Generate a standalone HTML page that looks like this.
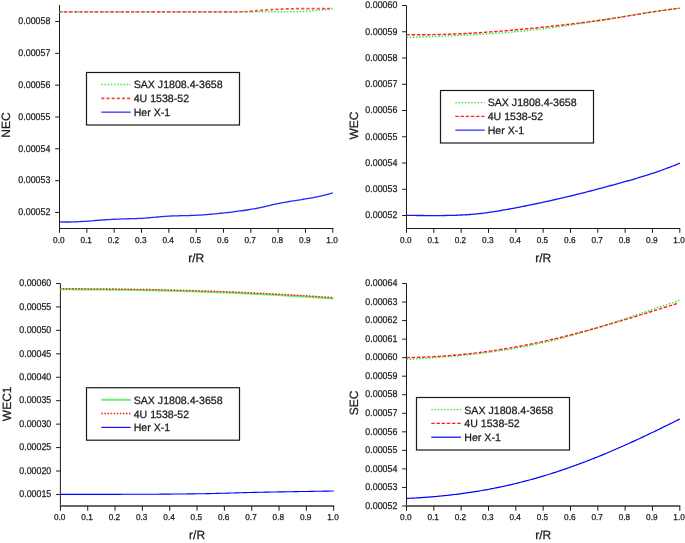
<!DOCTYPE html>
<html><head><meta charset="utf-8"><style>
html,body{margin:0;padding:0;background:#fff;width:685px;height:543px;overflow:hidden}
svg{display:block;will-change:transform}
text{font-family:"Liberation Sans", sans-serif;text-rendering:geometricPrecision;stroke:#1a1a1a;stroke-width:0.25px}
</style></head><body>
<svg width="685" height="543" viewBox="0 0 685 543">
<rect width="685" height="543" fill="#fff"/>
<g font-family='"Liberation Sans", sans-serif' font-size="9.8" fill="#1a1a1a">
<line x1="59.5" y1="5" x2="59.5" y2="229.0" stroke="#1a1a1a" stroke-width="1"/>
<line x1="59.0" y1="228.5" x2="333.3" y2="228.5" stroke="#1a1a1a" stroke-width="1"/>
<line x1="59.50" y1="228.5" x2="59.50" y2="232.8" stroke="#1a1a1a" stroke-width="1"/>
<text transform="translate(58.80,243) scale(0.96,1)" font-size="8.6" text-anchor="middle">0.0</text>
<line x1="86.83" y1="228.5" x2="86.83" y2="232.8" stroke="#1a1a1a" stroke-width="1"/>
<text transform="translate(86.13,243) scale(0.96,1)" font-size="8.6" text-anchor="middle">0.1</text>
<line x1="114.16" y1="228.5" x2="114.16" y2="232.8" stroke="#1a1a1a" stroke-width="1"/>
<text transform="translate(113.46,243) scale(0.96,1)" font-size="8.6" text-anchor="middle">0.2</text>
<line x1="141.49" y1="228.5" x2="141.49" y2="232.8" stroke="#1a1a1a" stroke-width="1"/>
<text transform="translate(140.79,243) scale(0.96,1)" font-size="8.6" text-anchor="middle">0.3</text>
<line x1="168.82" y1="228.5" x2="168.82" y2="232.8" stroke="#1a1a1a" stroke-width="1"/>
<text transform="translate(168.12,243) scale(0.96,1)" font-size="8.6" text-anchor="middle">0.4</text>
<line x1="196.15" y1="228.5" x2="196.15" y2="232.8" stroke="#1a1a1a" stroke-width="1"/>
<text transform="translate(195.45,243) scale(0.96,1)" font-size="8.6" text-anchor="middle">0.5</text>
<line x1="223.48" y1="228.5" x2="223.48" y2="232.8" stroke="#1a1a1a" stroke-width="1"/>
<text transform="translate(222.78,243) scale(0.96,1)" font-size="8.6" text-anchor="middle">0.6</text>
<line x1="250.81" y1="228.5" x2="250.81" y2="232.8" stroke="#1a1a1a" stroke-width="1"/>
<text transform="translate(250.11,243) scale(0.96,1)" font-size="8.6" text-anchor="middle">0.7</text>
<line x1="278.14" y1="228.5" x2="278.14" y2="232.8" stroke="#1a1a1a" stroke-width="1"/>
<text transform="translate(277.44,243) scale(0.96,1)" font-size="8.6" text-anchor="middle">0.8</text>
<line x1="305.47" y1="228.5" x2="305.47" y2="232.8" stroke="#1a1a1a" stroke-width="1"/>
<text transform="translate(304.77,243) scale(0.96,1)" font-size="8.6" text-anchor="middle">0.9</text>
<line x1="332.80" y1="228.5" x2="332.80" y2="232.8" stroke="#1a1a1a" stroke-width="1"/>
<text transform="translate(332.10,243) scale(0.96,1)" font-size="8.6" text-anchor="middle">1.0</text>
<line x1="55.2" y1="21.5" x2="59.5" y2="21.5" stroke="#1a1a1a" stroke-width="1"/>
<text transform="translate(50.4,24.25) scale(0.905,1)" text-anchor="end">0.00058</text>
<line x1="55.2" y1="53.33" x2="59.5" y2="53.33" stroke="#1a1a1a" stroke-width="1"/>
<text transform="translate(50.4,56.08) scale(0.905,1)" text-anchor="end">0.00057</text>
<line x1="55.2" y1="85.16" x2="59.5" y2="85.16" stroke="#1a1a1a" stroke-width="1"/>
<text transform="translate(50.4,87.91) scale(0.905,1)" text-anchor="end">0.00056</text>
<line x1="55.2" y1="116.99" x2="59.5" y2="116.99" stroke="#1a1a1a" stroke-width="1"/>
<text transform="translate(50.4,119.74) scale(0.905,1)" text-anchor="end">0.00055</text>
<line x1="55.2" y1="148.82" x2="59.5" y2="148.82" stroke="#1a1a1a" stroke-width="1"/>
<text transform="translate(50.4,151.57) scale(0.905,1)" text-anchor="end">0.00054</text>
<line x1="55.2" y1="180.64999999999998" x2="59.5" y2="180.64999999999998" stroke="#1a1a1a" stroke-width="1"/>
<text transform="translate(50.4,183.40) scale(0.905,1)" text-anchor="end">0.00053</text>
<line x1="55.2" y1="212.48" x2="59.5" y2="212.48" stroke="#1a1a1a" stroke-width="1"/>
<text transform="translate(50.4,215.23) scale(0.905,1)" text-anchor="end">0.00052</text>
<path d="M59.50,11.80 L61.22,11.80 L62.94,11.80 L64.66,11.80 L66.38,11.80 L68.09,11.80 L69.81,11.80 L71.53,11.80 L73.25,11.79 L74.97,11.79 L76.69,11.79 L78.41,11.79 L80.13,11.79 L81.85,11.79 L83.56,11.79 L85.28,11.79 L87.00,11.79 L88.72,11.79 L90.44,11.79 L92.16,11.79 L93.88,11.79 L95.60,11.79 L97.32,11.79 L99.03,11.79 L100.75,11.79 L102.47,11.79 L104.19,11.79 L105.91,11.79 L107.63,11.79 L109.35,11.78 L111.07,11.78 L112.78,11.78 L114.50,11.78 L116.22,11.78 L117.94,11.78 L119.66,11.78 L121.38,11.78 L123.10,11.78 L124.82,11.78 L126.54,11.78 L128.25,11.78 L129.97,11.78 L131.69,11.78 L133.41,11.78 L135.13,11.78 L136.85,11.78 L138.57,11.78 L140.29,11.78 L142.01,11.78 L143.72,11.78 L145.44,11.78 L147.16,11.78 L148.88,11.78 L150.60,11.78 L152.32,11.78 L154.04,11.78 L155.76,11.78 L157.48,11.78 L159.19,11.78 L160.91,11.78 L162.63,11.77 L164.35,11.77 L166.07,11.77 L167.79,11.77 L169.51,11.77 L171.23,11.77 L172.95,11.77 L174.66,11.77 L176.38,11.77 L178.10,11.77 L179.82,11.77 L181.54,11.77 L183.26,11.77 L184.98,11.77 L186.70,11.77 L188.42,11.77 L190.13,11.77 L191.85,11.77 L193.57,11.77 L195.29,11.77 L197.01,11.77 L198.73,11.77 L200.45,11.76 L202.17,11.76 L203.88,11.76 L205.60,11.76 L207.32,11.76 L209.04,11.76 L210.76,11.76 L212.48,11.76 L214.20,11.76 L215.92,11.76 L217.64,11.76 L219.35,11.76 L221.07,11.76 L222.79,11.76 L224.51,11.75 L226.23,11.75 L227.95,11.75 L229.67,11.75 L231.39,11.75 L233.11,11.75 L234.82,11.75 L236.54,11.75 L238.26,11.75 L239.98,11.75 L241.70,11.74 L243.42,11.74 L245.14,11.74 L246.86,11.74 L248.58,11.74 L250.29,11.74 L252.01,11.74 L253.73,11.74 L255.45,11.74 L257.17,11.73 L258.89,11.73 L260.61,11.73 L262.33,11.73 L264.05,11.73 L265.76,11.73 L267.48,11.73 L269.20,11.72 L270.92,11.72 L272.64,11.72 L274.36,11.72 L276.08,11.72 L277.80,11.72 L279.52,11.71 L281.23,11.71 L282.95,11.71 L284.67,11.71 L286.39,11.71 L288.11,11.70 L289.83,11.70 L291.55,11.70 L293.27,11.69 L294.98,11.68 L296.70,11.65 L298.42,11.62 L300.14,11.57 L301.86,11.52 L303.58,11.47 L305.30,11.41 L307.02,11.31 L308.74,11.15 L310.45,10.96 L312.17,10.76 L313.89,10.58 L315.61,10.42 L317.33,10.26 L319.05,10.10 L320.77,9.94 L322.49,9.78 L324.21,9.60 L325.92,9.41 L327.64,9.21 L329.36,9.00 L331.08,8.80 L332.80,8.60" fill="none" stroke="#3cf03c" stroke-width="1.5" stroke-dasharray="1.5 1.67" stroke-dashoffset="0.77" stroke-linecap="butt"/>
<path d="M59.50,11.80 L61.21,11.80 L62.92,11.80 L64.63,11.80 L66.34,11.80 L68.05,11.80 L69.76,11.80 L71.47,11.80 L73.18,11.80 L74.89,11.80 L76.60,11.80 L78.31,11.80 L80.02,11.80 L81.73,11.80 L83.44,11.80 L85.15,11.80 L86.86,11.80 L88.57,11.80 L90.28,11.80 L92.00,11.80 L93.71,11.80 L95.42,11.80 L97.13,11.80 L98.84,11.80 L100.55,11.80 L102.26,11.80 L103.97,11.80 L105.68,11.80 L107.39,11.80 L109.10,11.80 L110.81,11.80 L112.52,11.80 L114.23,11.80 L115.94,11.80 L117.65,11.80 L119.36,11.80 L121.07,11.80 L122.78,11.80 L124.49,11.80 L126.20,11.80 L127.91,11.80 L129.62,11.80 L131.33,11.80 L133.04,11.80 L134.75,11.80 L136.46,11.80 L138.17,11.80 L139.88,11.80 L141.59,11.80 L143.30,11.80 L145.01,11.80 L146.72,11.80 L148.43,11.80 L150.14,11.80 L151.85,11.80 L153.57,11.80 L155.28,11.80 L156.99,11.80 L158.70,11.80 L160.41,11.80 L162.12,11.80 L163.83,11.80 L165.54,11.80 L167.25,11.80 L168.96,11.80 L170.67,11.80 L172.38,11.80 L174.09,11.80 L175.80,11.80 L177.51,11.80 L179.22,11.80 L180.93,11.80 L182.64,11.80 L184.35,11.80 L186.06,11.80 L187.77,11.80 L189.48,11.80 L191.19,11.80 L192.90,11.80 L194.61,11.80 L196.32,11.80 L198.03,11.80 L199.74,11.80 L201.45,11.80 L203.16,11.80 L204.87,11.80 L206.58,11.80 L208.29,11.80 L210.00,11.80 L211.71,11.80 L213.42,11.80 L215.13,11.80 L216.85,11.80 L218.56,11.80 L220.27,11.80 L221.98,11.80 L223.69,11.80 L225.40,11.80 L227.11,11.80 L228.82,11.80 L230.53,11.80 L232.24,11.79 L233.95,11.79 L235.66,11.78 L237.37,11.78 L239.08,11.77 L240.79,11.77 L242.50,11.76 L244.21,11.75 L245.92,11.69 L247.63,11.57 L249.34,11.42 L251.05,11.28 L252.76,11.13 L254.47,10.97 L256.18,10.81 L257.89,10.64 L259.60,10.47 L261.31,10.29 L263.02,10.12 L264.73,9.97 L266.44,9.83 L268.15,9.73 L269.86,9.63 L271.57,9.55 L273.28,9.48 L274.99,9.40 L276.70,9.33 L278.42,9.25 L280.13,9.16 L281.84,9.07 L283.55,8.99 L285.26,8.92 L286.97,8.87 L288.68,8.83 L290.39,8.80 L292.10,8.77 L293.81,8.75 L295.52,8.73 L297.23,8.71 L298.94,8.70 L300.65,8.70 L302.36,8.70 L304.07,8.70 L305.78,8.70 L307.49,8.70 L309.20,8.70 L310.91,8.70 L312.62,8.70 L314.33,8.70 L316.04,8.70 L317.75,8.70 L319.46,8.70 L321.17,8.70 L322.88,8.70 L324.59,8.70 L326.30,8.70 L328.01,8.70 L329.72,8.70 L331.43,8.70" fill="none" stroke="#ff4646" stroke-width="1.7" stroke-dasharray="3.05 2.11" stroke-dashoffset="0.66" stroke-linecap="butt"/>
<path d="M59.50,221.90 L61.22,221.96 L62.94,222.00 L64.66,222.02 L66.38,222.02 L68.09,222.01 L69.81,221.99 L71.53,221.95 L73.25,221.90 L74.97,221.84 L76.69,221.77 L78.41,221.69 L80.13,221.59 L81.85,221.50 L83.56,221.39 L85.28,221.28 L87.00,221.16 L88.72,221.04 L90.44,220.91 L92.16,220.78 L93.88,220.65 L95.60,220.52 L97.32,220.39 L99.03,220.26 L100.75,220.13 L102.47,220.00 L104.19,219.88 L105.91,219.76 L107.63,219.65 L109.35,219.54 L111.07,219.44 L112.78,219.35 L114.50,219.26 L116.22,219.18 L117.94,219.10 L119.66,219.03 L121.38,218.97 L123.10,218.91 L124.82,218.86 L126.54,218.81 L128.25,218.76 L129.97,218.72 L131.69,218.68 L133.41,218.64 L135.13,218.60 L136.85,218.54 L138.57,218.47 L140.29,218.39 L142.01,218.30 L143.72,218.18 L145.44,218.06 L147.16,217.92 L148.88,217.77 L150.60,217.62 L152.32,217.46 L154.04,217.30 L155.76,217.14 L157.48,216.98 L159.19,216.82 L160.91,216.67 L162.63,216.53 L164.35,216.40 L166.07,216.29 L167.79,216.18 L169.51,216.09 L171.23,216.01 L172.95,215.94 L174.66,215.88 L176.38,215.82 L178.10,215.78 L179.82,215.73 L181.54,215.69 L183.26,215.65 L184.98,215.61 L186.70,215.57 L188.42,215.53 L190.13,215.48 L191.85,215.42 L193.57,215.36 L195.29,215.29 L197.01,215.21 L198.73,215.13 L200.45,215.03 L202.17,214.92 L203.88,214.81 L205.60,214.69 L207.32,214.55 L209.04,214.42 L210.76,214.27 L212.48,214.12 L214.20,213.96 L215.92,213.80 L217.64,213.62 L219.35,213.45 L221.07,213.26 L222.79,213.08 L224.51,212.89 L226.23,212.69 L227.95,212.49 L229.67,212.28 L231.39,212.08 L233.11,211.86 L234.82,211.65 L236.54,211.43 L238.26,211.21 L239.98,210.98 L241.70,210.75 L243.42,210.51 L245.14,210.26 L246.86,210.01 L248.58,209.74 L250.29,209.47 L252.01,209.18 L253.73,208.88 L255.45,208.57 L257.17,208.24 L258.89,207.90 L260.61,207.55 L262.33,207.17 L264.05,206.78 L265.76,206.38 L267.48,205.97 L269.20,205.55 L270.92,205.14 L272.64,204.74 L274.36,204.35 L276.08,203.98 L277.80,203.63 L279.52,203.29 L281.23,202.96 L282.95,202.64 L284.67,202.33 L286.39,202.03 L288.11,201.74 L289.83,201.46 L291.55,201.18 L293.27,200.90 L294.98,200.63 L296.70,200.35 L298.42,200.08 L300.14,199.81 L301.86,199.53 L303.58,199.25 L305.30,198.97 L307.02,198.68 L308.74,198.39 L310.45,198.08 L312.17,197.77 L313.89,197.45 L315.61,197.12 L317.33,196.77 L319.05,196.41 L320.77,196.03 L322.49,195.64 L324.21,195.24 L325.92,194.81 L327.64,194.36 L329.36,193.90 L331.08,193.41 L332.80,192.90" fill="none" stroke="#2424ff" stroke-width="1.3" stroke-linecap="butt"/>
<text x="196.15" y="261.8" text-anchor="middle" font-size="12.0">r/R</text>
<text transform="translate(10.2,125) rotate(-90)" text-anchor="middle" font-size="12.0">NEC</text>
<rect x="86.5" y="72.5" width="153" height="52.5" fill="#fff" stroke="#1a1a1a" stroke-width="1.2"/>
<line x1="101.3" y1="84.60" x2="130.7" y2="84.60" stroke="#3cf03c" stroke-width="1.5" stroke-dasharray="1.5 1.67"/>
<text x="133.7" y="88.10" font-size="10.6">SAX J1808.4-3658</text>
<line x1="101.3" y1="98.40" x2="130.7" y2="98.40" stroke="#ff4646" stroke-width="1.7" stroke-dasharray="3.05 2.11"/>
<text x="133.7" y="101.90" font-size="10.6">4U 1538-52</text>
<line x1="101.3" y1="112.20" x2="130.7" y2="112.20" stroke="#5a5aff" stroke-width="1.6"/>
<text x="133.7" y="115.70" font-size="10.6">Her X-1</text>
<line x1="406.5" y1="5.5" x2="406.5" y2="229.0" stroke="#1a1a1a" stroke-width="1"/>
<line x1="406.0" y1="228.5" x2="680.3" y2="228.5" stroke="#1a1a1a" stroke-width="1"/>
<line x1="406.50" y1="228.5" x2="406.50" y2="232.8" stroke="#1a1a1a" stroke-width="1"/>
<text transform="translate(405.80,243) scale(0.96,1)" font-size="8.6" text-anchor="middle">0.0</text>
<line x1="433.83" y1="228.5" x2="433.83" y2="232.8" stroke="#1a1a1a" stroke-width="1"/>
<text transform="translate(433.13,243) scale(0.96,1)" font-size="8.6" text-anchor="middle">0.1</text>
<line x1="461.16" y1="228.5" x2="461.16" y2="232.8" stroke="#1a1a1a" stroke-width="1"/>
<text transform="translate(460.46,243) scale(0.96,1)" font-size="8.6" text-anchor="middle">0.2</text>
<line x1="488.49" y1="228.5" x2="488.49" y2="232.8" stroke="#1a1a1a" stroke-width="1"/>
<text transform="translate(487.79,243) scale(0.96,1)" font-size="8.6" text-anchor="middle">0.3</text>
<line x1="515.82" y1="228.5" x2="515.82" y2="232.8" stroke="#1a1a1a" stroke-width="1"/>
<text transform="translate(515.12,243) scale(0.96,1)" font-size="8.6" text-anchor="middle">0.4</text>
<line x1="543.15" y1="228.5" x2="543.15" y2="232.8" stroke="#1a1a1a" stroke-width="1"/>
<text transform="translate(542.45,243) scale(0.96,1)" font-size="8.6" text-anchor="middle">0.5</text>
<line x1="570.48" y1="228.5" x2="570.48" y2="232.8" stroke="#1a1a1a" stroke-width="1"/>
<text transform="translate(569.78,243) scale(0.96,1)" font-size="8.6" text-anchor="middle">0.6</text>
<line x1="597.81" y1="228.5" x2="597.81" y2="232.8" stroke="#1a1a1a" stroke-width="1"/>
<text transform="translate(597.11,243) scale(0.96,1)" font-size="8.6" text-anchor="middle">0.7</text>
<line x1="625.14" y1="228.5" x2="625.14" y2="232.8" stroke="#1a1a1a" stroke-width="1"/>
<text transform="translate(624.44,243) scale(0.96,1)" font-size="8.6" text-anchor="middle">0.8</text>
<line x1="652.47" y1="228.5" x2="652.47" y2="232.8" stroke="#1a1a1a" stroke-width="1"/>
<text transform="translate(651.77,243) scale(0.96,1)" font-size="8.6" text-anchor="middle">0.9</text>
<line x1="679.80" y1="228.5" x2="679.80" y2="232.8" stroke="#1a1a1a" stroke-width="1"/>
<text transform="translate(679.10,243) scale(0.96,1)" font-size="8.6" text-anchor="middle">1.0</text>
<line x1="402.2" y1="5.5" x2="406.5" y2="5.5" stroke="#1a1a1a" stroke-width="1"/>
<text transform="translate(397.4,8.25) scale(0.905,1)" text-anchor="end">0.00060</text>
<line x1="402.2" y1="31.75" x2="406.5" y2="31.75" stroke="#1a1a1a" stroke-width="1"/>
<text transform="translate(397.4,34.50) scale(0.905,1)" text-anchor="end">0.00059</text>
<line x1="402.2" y1="58.0" x2="406.5" y2="58.0" stroke="#1a1a1a" stroke-width="1"/>
<text transform="translate(397.4,60.75) scale(0.905,1)" text-anchor="end">0.00058</text>
<line x1="402.2" y1="84.25" x2="406.5" y2="84.25" stroke="#1a1a1a" stroke-width="1"/>
<text transform="translate(397.4,87.00) scale(0.905,1)" text-anchor="end">0.00057</text>
<line x1="402.2" y1="110.5" x2="406.5" y2="110.5" stroke="#1a1a1a" stroke-width="1"/>
<text transform="translate(397.4,113.25) scale(0.905,1)" text-anchor="end">0.00056</text>
<line x1="402.2" y1="136.75" x2="406.5" y2="136.75" stroke="#1a1a1a" stroke-width="1"/>
<text transform="translate(397.4,139.50) scale(0.905,1)" text-anchor="end">0.00055</text>
<line x1="402.2" y1="163.0" x2="406.5" y2="163.0" stroke="#1a1a1a" stroke-width="1"/>
<text transform="translate(397.4,165.75) scale(0.905,1)" text-anchor="end">0.00054</text>
<line x1="402.2" y1="189.25" x2="406.5" y2="189.25" stroke="#1a1a1a" stroke-width="1"/>
<text transform="translate(397.4,192.00) scale(0.905,1)" text-anchor="end">0.00053</text>
<line x1="402.2" y1="215.5" x2="406.5" y2="215.5" stroke="#1a1a1a" stroke-width="1"/>
<text transform="translate(397.4,218.25) scale(0.905,1)" text-anchor="end">0.00052</text>
<path d="M406.50,37.46 L408.22,37.41 L409.94,37.35 L411.66,37.29 L413.38,37.23 L415.09,37.17 L416.81,37.11 L418.53,37.05 L420.25,36.99 L421.97,36.93 L423.69,36.87 L425.41,36.81 L427.13,36.74 L428.85,36.68 L430.56,36.62 L432.28,36.55 L434.00,36.48 L435.72,36.42 L437.44,36.35 L439.16,36.28 L440.88,36.21 L442.60,36.14 L444.32,36.07 L446.03,36.00 L447.75,35.92 L449.47,35.85 L451.19,35.77 L452.91,35.70 L454.63,35.62 L456.35,35.54 L458.07,35.46 L459.78,35.37 L461.50,35.29 L463.22,35.21 L464.94,35.12 L466.66,35.03 L468.38,34.94 L470.10,34.85 L471.82,34.76 L473.54,34.66 L475.25,34.57 L476.97,34.47 L478.69,34.37 L480.41,34.27 L482.13,34.16 L483.85,34.06 L485.57,33.95 L487.29,33.84 L489.01,33.73 L490.72,33.62 L492.44,33.50 L494.16,33.39 L495.88,33.27 L497.60,33.15 L499.32,33.02 L501.04,32.89 L502.76,32.76 L504.48,32.63 L506.19,32.50 L507.91,32.36 L509.63,32.22 L511.35,32.08 L513.07,31.93 L514.79,31.78 L516.51,31.63 L518.23,31.47 L519.95,31.31 L521.66,31.15 L523.38,30.99 L525.10,30.82 L526.82,30.65 L528.54,30.47 L530.26,30.29 L531.98,30.11 L533.70,29.92 L535.42,29.73 L537.13,29.54 L538.85,29.34 L540.57,29.13 L542.29,28.93 L544.01,28.72 L545.73,28.50 L547.45,28.28 L549.17,28.06 L550.88,27.83 L552.60,27.60 L554.32,27.37 L556.04,27.13 L557.76,26.89 L559.48,26.64 L561.20,26.40 L562.92,26.15 L564.64,25.89 L566.35,25.64 L568.07,25.38 L569.79,25.12 L571.51,24.86 L573.23,24.60 L574.95,24.33 L576.67,24.07 L578.39,23.80 L580.11,23.53 L581.82,23.26 L583.54,22.99 L585.26,22.72 L586.98,22.44 L588.70,22.17 L590.42,21.90 L592.14,21.62 L593.86,21.35 L595.58,21.08 L597.29,20.80 L599.01,20.53 L600.73,20.25 L602.45,19.97 L604.17,19.70 L605.89,19.42 L607.61,19.14 L609.33,18.86 L611.05,18.58 L612.76,18.30 L614.48,18.02 L616.20,17.74 L617.92,17.46 L619.64,17.18 L621.36,16.89 L623.08,16.61 L624.80,16.32 L626.52,16.04 L628.23,15.76 L629.95,15.47 L631.67,15.19 L633.39,14.90 L635.11,14.62 L636.83,14.34 L638.55,14.06 L640.27,13.78 L641.98,13.51 L643.70,13.23 L645.42,12.96 L647.14,12.69 L648.86,12.43 L650.58,12.16 L652.30,11.90 L654.02,11.65 L655.74,11.39 L657.45,11.14 L659.17,10.90 L660.89,10.66 L662.61,10.42 L664.33,10.19 L666.05,9.96 L667.77,9.74 L669.49,9.52 L671.21,9.31 L672.92,9.11 L674.64,8.91 L676.36,8.72 L678.08,8.53 L679.80,8.35" fill="none" stroke="#22ee22" stroke-width="1.4" stroke-dasharray="1.5 1.67" stroke-dashoffset="0" stroke-linecap="butt"/>
<path d="M406.50,34.63 L408.22,34.66 L409.94,34.68 L411.66,34.70 L413.38,34.71 L415.09,34.72 L416.81,34.73 L418.53,34.73 L420.25,34.73 L421.97,34.73 L423.69,34.72 L425.41,34.71 L427.13,34.70 L428.85,34.68 L430.56,34.66 L432.28,34.63 L434.00,34.60 L435.72,34.57 L437.44,34.53 L439.16,34.49 L440.88,34.45 L442.60,34.41 L444.32,34.36 L446.03,34.30 L447.75,34.25 L449.47,34.19 L451.19,34.13 L452.91,34.06 L454.63,34.00 L456.35,33.92 L458.07,33.85 L459.78,33.77 L461.50,33.69 L463.22,33.61 L464.94,33.53 L466.66,33.44 L468.38,33.35 L470.10,33.25 L471.82,33.15 L473.54,33.06 L475.25,32.95 L476.97,32.85 L478.69,32.74 L480.41,32.63 L482.13,32.52 L483.85,32.40 L485.57,32.29 L487.29,32.17 L489.01,32.04 L490.72,31.92 L492.44,31.79 L494.16,31.66 L495.88,31.53 L497.60,31.40 L499.32,31.26 L501.04,31.12 L502.76,30.98 L504.48,30.84 L506.19,30.69 L507.91,30.55 L509.63,30.40 L511.35,30.25 L513.07,30.09 L514.79,29.94 L516.51,29.78 L518.23,29.62 L519.95,29.46 L521.66,29.30 L523.38,29.14 L525.10,28.97 L526.82,28.81 L528.54,28.64 L530.26,28.47 L531.98,28.29 L533.70,28.12 L535.42,27.95 L537.13,27.77 L538.85,27.59 L540.57,27.41 L542.29,27.23 L544.01,27.05 L545.73,26.87 L547.45,26.68 L549.17,26.49 L550.88,26.31 L552.60,26.12 L554.32,25.93 L556.04,25.74 L557.76,25.55 L559.48,25.35 L561.20,25.16 L562.92,24.96 L564.64,24.77 L566.35,24.57 L568.07,24.37 L569.79,24.17 L571.51,23.97 L573.23,23.77 L574.95,23.57 L576.67,23.36 L578.39,23.16 L580.11,22.95 L581.82,22.74 L583.54,22.52 L585.26,22.31 L586.98,22.09 L588.70,21.87 L590.42,21.64 L592.14,21.41 L593.86,21.18 L595.58,20.95 L597.29,20.71 L599.01,20.47 L600.73,20.23 L602.45,19.98 L604.17,19.72 L605.89,19.47 L607.61,19.21 L609.33,18.95 L611.05,18.68 L612.76,18.42 L614.48,18.15 L616.20,17.88 L617.92,17.60 L619.64,17.33 L621.36,17.05 L623.08,16.77 L624.80,16.49 L626.52,16.21 L628.23,15.92 L629.95,15.64 L631.67,15.36 L633.39,15.07 L635.11,14.79 L636.83,14.50 L638.55,14.21 L640.27,13.93 L641.98,13.65 L643.70,13.36 L645.42,13.08 L647.14,12.80 L648.86,12.53 L650.58,12.25 L652.30,11.98 L654.02,11.71 L655.74,11.45 L657.45,11.19 L659.17,10.93 L660.89,10.68 L662.61,10.43 L664.33,10.18 L666.05,9.95 L667.77,9.71 L669.49,9.49 L671.21,9.27 L672.92,9.05 L674.64,8.85 L676.36,8.65 L678.08,8.46 L679.80,8.27" fill="none" stroke="#ff2020" stroke-width="1.4" stroke-dasharray="3.5 1.66" stroke-dashoffset="0" stroke-linecap="butt"/>
<path d="M406.50,215.46 L408.22,215.46 L409.94,215.46 L411.66,215.46 L413.38,215.47 L415.09,215.47 L416.81,215.48 L418.53,215.49 L420.25,215.50 L421.97,215.51 L423.69,215.52 L425.41,215.53 L427.13,215.54 L428.85,215.55 L430.56,215.56 L432.28,215.56 L434.00,215.57 L435.72,215.57 L437.44,215.57 L439.16,215.56 L440.88,215.55 L442.60,215.54 L444.32,215.52 L446.03,215.50 L447.75,215.47 L449.47,215.44 L451.19,215.40 L452.91,215.35 L454.63,215.30 L456.35,215.24 L458.07,215.18 L459.78,215.11 L461.50,215.02 L463.22,214.93 L464.94,214.84 L466.66,214.73 L468.38,214.61 L470.10,214.48 L471.82,214.35 L473.54,214.20 L475.25,214.04 L476.97,213.87 L478.69,213.69 L480.41,213.50 L482.13,213.29 L483.85,213.08 L485.57,212.86 L487.29,212.63 L489.01,212.39 L490.72,212.15 L492.44,211.89 L494.16,211.63 L495.88,211.36 L497.60,211.08 L499.32,210.80 L501.04,210.51 L502.76,210.22 L504.48,209.92 L506.19,209.61 L507.91,209.30 L509.63,208.99 L511.35,208.67 L513.07,208.35 L514.79,208.02 L516.51,207.69 L518.23,207.36 L519.95,207.03 L521.66,206.69 L523.38,206.35 L525.10,206.00 L526.82,205.65 L528.54,205.30 L530.26,204.95 L531.98,204.59 L533.70,204.24 L535.42,203.87 L537.13,203.51 L538.85,203.14 L540.57,202.78 L542.29,202.41 L544.01,202.03 L545.73,201.66 L547.45,201.28 L549.17,200.90 L550.88,200.52 L552.60,200.14 L554.32,199.75 L556.04,199.36 L557.76,198.97 L559.48,198.58 L561.20,198.18 L562.92,197.78 L564.64,197.38 L566.35,196.98 L568.07,196.57 L569.79,196.16 L571.51,195.75 L573.23,195.33 L574.95,194.91 L576.67,194.49 L578.39,194.06 L580.11,193.64 L581.82,193.20 L583.54,192.77 L585.26,192.33 L586.98,191.89 L588.70,191.45 L590.42,191.00 L592.14,190.56 L593.86,190.11 L595.58,189.65 L597.29,189.20 L599.01,188.74 L600.73,188.28 L602.45,187.82 L604.17,187.36 L605.89,186.90 L607.61,186.44 L609.33,185.97 L611.05,185.50 L612.76,185.04 L614.48,184.57 L616.20,184.10 L617.92,183.63 L619.64,183.15 L621.36,182.68 L623.08,182.20 L624.80,181.72 L626.52,181.23 L628.23,180.75 L629.95,180.26 L631.67,179.76 L633.39,179.26 L635.11,178.76 L636.83,178.25 L638.55,177.74 L640.27,177.22 L641.98,176.70 L643.70,176.17 L645.42,175.64 L647.14,175.09 L648.86,174.54 L650.58,173.99 L652.30,173.42 L654.02,172.85 L655.74,172.27 L657.45,171.69 L659.17,171.09 L660.89,170.49 L662.61,169.87 L664.33,169.25 L666.05,168.62 L667.77,167.97 L669.49,167.32 L671.21,166.66 L672.92,165.98 L674.64,165.30 L676.36,164.60 L678.08,163.89 L679.80,163.17" fill="none" stroke="#1414ff" stroke-width="1.3" stroke-linecap="butt"/>
<text x="543.15" y="261.8" text-anchor="middle" font-size="12.0">r/R</text>
<text transform="translate(357.8,125.6) rotate(-90)" text-anchor="middle" font-size="12.0">WEC</text>
<rect x="440.5" y="90.5" width="153" height="52.5" fill="#fff" stroke="#1a1a1a" stroke-width="1.2"/>
<line x1="455.3" y1="102.60" x2="484.7" y2="102.60" stroke="#22ee22" stroke-width="1.4" stroke-dasharray="1.5 1.67"/>
<text x="487.7" y="106.10" font-size="10.6">SAX J1808.4-3658</text>
<line x1="455.3" y1="116.40" x2="484.7" y2="116.40" stroke="#ff2020" stroke-width="1.4" stroke-dasharray="3.5 1.66"/>
<text x="487.7" y="119.90" font-size="10.6">4U 1538-52</text>
<line x1="455.3" y1="130.20" x2="484.7" y2="130.20" stroke="#5a5aff" stroke-width="1.6"/>
<text x="487.7" y="133.70" font-size="10.6">Her X-1</text>
<line x1="60.4" y1="283.5" x2="60.4" y2="506.5" stroke="#1a1a1a" stroke-width="1"/>
<line x1="59.9" y1="506" x2="334.2" y2="506" stroke="#666" stroke-width="2"/>
<line x1="60.40" y1="506" x2="60.40" y2="510.8" stroke="#1a1a1a" stroke-width="1"/>
<text transform="translate(59.70,520.2) scale(0.96,1)" font-size="8.6" text-anchor="middle">0.0</text>
<line x1="87.73" y1="506" x2="87.73" y2="510.8" stroke="#1a1a1a" stroke-width="1"/>
<text transform="translate(87.03,520.2) scale(0.96,1)" font-size="8.6" text-anchor="middle">0.1</text>
<line x1="115.06" y1="506" x2="115.06" y2="510.8" stroke="#1a1a1a" stroke-width="1"/>
<text transform="translate(114.36,520.2) scale(0.96,1)" font-size="8.6" text-anchor="middle">0.2</text>
<line x1="142.39" y1="506" x2="142.39" y2="510.8" stroke="#1a1a1a" stroke-width="1"/>
<text transform="translate(141.69,520.2) scale(0.96,1)" font-size="8.6" text-anchor="middle">0.3</text>
<line x1="169.72" y1="506" x2="169.72" y2="510.8" stroke="#1a1a1a" stroke-width="1"/>
<text transform="translate(169.02,520.2) scale(0.96,1)" font-size="8.6" text-anchor="middle">0.4</text>
<line x1="197.05" y1="506" x2="197.05" y2="510.8" stroke="#1a1a1a" stroke-width="1"/>
<text transform="translate(196.35,520.2) scale(0.96,1)" font-size="8.6" text-anchor="middle">0.5</text>
<line x1="224.38" y1="506" x2="224.38" y2="510.8" stroke="#1a1a1a" stroke-width="1"/>
<text transform="translate(223.68,520.2) scale(0.96,1)" font-size="8.6" text-anchor="middle">0.6</text>
<line x1="251.71" y1="506" x2="251.71" y2="510.8" stroke="#1a1a1a" stroke-width="1"/>
<text transform="translate(251.01,520.2) scale(0.96,1)" font-size="8.6" text-anchor="middle">0.7</text>
<line x1="279.04" y1="506" x2="279.04" y2="510.8" stroke="#1a1a1a" stroke-width="1"/>
<text transform="translate(278.34,520.2) scale(0.96,1)" font-size="8.6" text-anchor="middle">0.8</text>
<line x1="306.37" y1="506" x2="306.37" y2="510.8" stroke="#1a1a1a" stroke-width="1"/>
<text transform="translate(305.67,520.2) scale(0.96,1)" font-size="8.6" text-anchor="middle">0.9</text>
<line x1="333.70" y1="506" x2="333.70" y2="510.8" stroke="#1a1a1a" stroke-width="1"/>
<text transform="translate(333.00,520.2) scale(0.96,1)" font-size="8.6" text-anchor="middle">1.0</text>
<line x1="56.1" y1="283.5" x2="60.4" y2="283.5" stroke="#1a1a1a" stroke-width="1"/>
<text transform="translate(51.3,286.25) scale(0.905,1)" text-anchor="end">0.00060</text>
<line x1="56.1" y1="306.94" x2="60.4" y2="306.94" stroke="#1a1a1a" stroke-width="1"/>
<text transform="translate(51.3,309.69) scale(0.905,1)" text-anchor="end">0.00055</text>
<line x1="56.1" y1="330.38" x2="60.4" y2="330.38" stroke="#1a1a1a" stroke-width="1"/>
<text transform="translate(51.3,333.13) scale(0.905,1)" text-anchor="end">0.00050</text>
<line x1="56.1" y1="353.82" x2="60.4" y2="353.82" stroke="#1a1a1a" stroke-width="1"/>
<text transform="translate(51.3,356.57) scale(0.905,1)" text-anchor="end">0.00045</text>
<line x1="56.1" y1="377.26" x2="60.4" y2="377.26" stroke="#1a1a1a" stroke-width="1"/>
<text transform="translate(51.3,380.01) scale(0.905,1)" text-anchor="end">0.00040</text>
<line x1="56.1" y1="400.7" x2="60.4" y2="400.7" stroke="#1a1a1a" stroke-width="1"/>
<text transform="translate(51.3,403.45) scale(0.905,1)" text-anchor="end">0.00035</text>
<line x1="56.1" y1="424.14" x2="60.4" y2="424.14" stroke="#1a1a1a" stroke-width="1"/>
<text transform="translate(51.3,426.89) scale(0.905,1)" text-anchor="end">0.00030</text>
<line x1="56.1" y1="447.58000000000004" x2="60.4" y2="447.58000000000004" stroke="#1a1a1a" stroke-width="1"/>
<text transform="translate(51.3,450.33) scale(0.905,1)" text-anchor="end">0.00025</text>
<line x1="56.1" y1="471.02" x2="60.4" y2="471.02" stroke="#1a1a1a" stroke-width="1"/>
<text transform="translate(51.3,473.77) scale(0.905,1)" text-anchor="end">0.00020</text>
<line x1="56.1" y1="494.46000000000004" x2="60.4" y2="494.46000000000004" stroke="#1a1a1a" stroke-width="1"/>
<text transform="translate(51.3,497.21) scale(0.905,1)" text-anchor="end">0.00015</text>
<path d="M60.40,289.35 L62.12,289.35 L63.84,289.35 L65.56,289.36 L67.28,289.36 L68.99,289.36 L70.71,289.37 L72.43,289.37 L74.15,289.38 L75.87,289.39 L77.59,289.39 L79.31,289.40 L81.03,289.41 L82.75,289.42 L84.46,289.43 L86.18,289.44 L87.90,289.45 L89.62,289.46 L91.34,289.47 L93.06,289.49 L94.78,289.50 L96.50,289.51 L98.22,289.53 L99.93,289.54 L101.65,289.56 L103.37,289.58 L105.09,289.59 L106.81,289.61 L108.53,289.63 L110.25,289.65 L111.97,289.67 L113.68,289.69 L115.40,289.71 L117.12,289.73 L118.84,289.75 L120.56,289.77 L122.28,289.80 L124.00,289.82 L125.72,289.85 L127.44,289.87 L129.15,289.90 L130.87,289.93 L132.59,289.95 L134.31,289.98 L136.03,290.01 L137.75,290.04 L139.47,290.07 L141.19,290.10 L142.91,290.13 L144.62,290.16 L146.34,290.20 L148.06,290.23 L149.78,290.27 L151.50,290.30 L153.22,290.34 L154.94,290.37 L156.66,290.41 L158.38,290.45 L160.09,290.49 L161.81,290.53 L163.53,290.57 L165.25,290.61 L166.97,290.65 L168.69,290.69 L170.41,290.73 L172.13,290.78 L173.85,290.82 L175.56,290.87 L177.28,290.91 L179.00,290.96 L180.72,291.01 L182.44,291.06 L184.16,291.11 L185.88,291.16 L187.60,291.21 L189.32,291.26 L191.03,291.31 L192.75,291.36 L194.47,291.42 L196.19,291.47 L197.91,291.53 L199.63,291.58 L201.35,291.64 L203.07,291.70 L204.78,291.75 L206.50,291.81 L208.22,291.87 L209.94,291.93 L211.66,292.00 L213.38,292.06 L215.10,292.12 L216.82,292.18 L218.54,292.25 L220.25,292.31 L221.97,292.38 L223.69,292.45 L225.41,292.52 L227.13,292.59 L228.85,292.66 L230.57,292.73 L232.29,292.80 L234.01,292.87 L235.72,292.94 L237.44,293.02 L239.16,293.09 L240.88,293.17 L242.60,293.24 L244.32,293.32 L246.04,293.40 L247.76,293.48 L249.48,293.56 L251.19,293.64 L252.91,293.72 L254.63,293.80 L256.35,293.89 L258.07,293.97 L259.79,294.05 L261.51,294.14 L263.23,294.23 L264.95,294.31 L266.66,294.40 L268.38,294.49 L270.10,294.58 L271.82,294.67 L273.54,294.77 L275.26,294.86 L276.98,294.95 L278.70,295.05 L280.42,295.14 L282.13,295.24 L283.85,295.34 L285.57,295.44 L287.29,295.54 L289.01,295.64 L290.73,295.74 L292.45,295.84 L294.17,295.94 L295.88,296.05 L297.60,296.15 L299.32,296.26 L301.04,296.37 L302.76,296.47 L304.48,296.58 L306.20,296.69 L307.92,296.80 L309.64,296.92 L311.35,297.03 L313.07,297.14 L314.79,297.26 L316.51,297.37 L318.23,297.49 L319.95,297.61 L321.67,297.72 L323.39,297.84 L325.11,297.96 L326.82,298.09 L328.54,298.21 L330.26,298.33 L331.98,298.46 L333.70,298.58" fill="none" stroke="#6cf06c" stroke-width="2.0" stroke-linecap="butt"/>
<path d="M60.40,288.80 L62.12,288.80 L63.84,288.80 L65.56,288.80 L67.28,288.80 L68.99,288.80 L70.71,288.81 L72.43,288.81 L74.15,288.82 L75.87,288.82 L77.59,288.83 L79.31,288.83 L81.03,288.84 L82.75,288.84 L84.46,288.85 L86.18,288.86 L87.90,288.87 L89.62,288.88 L91.34,288.89 L93.06,288.90 L94.78,288.91 L96.50,288.92 L98.22,288.94 L99.93,288.95 L101.65,288.96 L103.37,288.98 L105.09,288.99 L106.81,289.01 L108.53,289.02 L110.25,289.04 L111.97,289.06 L113.68,289.08 L115.40,289.10 L117.12,289.12 L118.84,289.14 L120.56,289.16 L122.28,289.18 L124.00,289.20 L125.72,289.22 L127.44,289.25 L129.15,289.27 L130.87,289.30 L132.59,289.32 L134.31,289.35 L136.03,289.38 L137.75,289.40 L139.47,289.43 L141.19,289.46 L142.91,289.49 L144.62,289.52 L146.34,289.55 L148.06,289.58 L149.78,289.62 L151.50,289.65 L153.22,289.68 L154.94,289.72 L156.66,289.75 L158.38,289.79 L160.09,289.83 L161.81,289.86 L163.53,289.90 L165.25,289.94 L166.97,289.98 L168.69,290.02 L170.41,290.06 L172.13,290.10 L173.85,290.15 L175.56,290.19 L177.28,290.23 L179.00,290.28 L180.72,290.32 L182.44,290.37 L184.16,290.42 L185.88,290.47 L187.60,290.52 L189.32,290.56 L191.03,290.61 L192.75,290.67 L194.47,290.72 L196.19,290.77 L197.91,290.82 L199.63,290.88 L201.35,290.93 L203.07,290.99 L204.78,291.04 L206.50,291.10 L208.22,291.16 L209.94,291.22 L211.66,291.28 L213.38,291.34 L215.10,291.40 L216.82,291.46 L218.54,291.53 L220.25,291.59 L221.97,291.65 L223.69,291.72 L225.41,291.78 L227.13,291.85 L228.85,291.92 L230.57,291.99 L232.29,292.06 L234.01,292.13 L235.72,292.20 L237.44,292.27 L239.16,292.34 L240.88,292.42 L242.60,292.49 L244.32,292.57 L246.04,292.64 L247.76,292.72 L249.48,292.80 L251.19,292.88 L252.91,292.96 L254.63,293.04 L256.35,293.12 L258.07,293.20 L259.79,293.29 L261.51,293.37 L263.23,293.45 L264.95,293.54 L266.66,293.63 L268.38,293.71 L270.10,293.80 L271.82,293.89 L273.54,293.98 L275.26,294.07 L276.98,294.17 L278.70,294.26 L280.42,294.35 L282.13,294.45 L283.85,294.54 L285.57,294.64 L287.29,294.74 L289.01,294.84 L290.73,294.94 L292.45,295.04 L294.17,295.14 L295.88,295.24 L297.60,295.34 L299.32,295.45 L301.04,295.55 L302.76,295.66 L304.48,295.77 L306.20,295.87 L307.92,295.98 L309.64,296.09 L311.35,296.20 L313.07,296.32 L314.79,296.43 L316.51,296.54 L318.23,296.66 L319.95,296.77 L321.67,296.89 L323.39,297.01 L325.11,297.12 L326.82,297.24 L328.54,297.36 L330.26,297.49 L331.98,297.61 L333.70,297.73" fill="none" stroke="#ff1a1a" stroke-width="1.5" stroke-dasharray="1.5 1.58" stroke-dashoffset="0.7" stroke-linecap="butt"/>
<path d="M60.40,494.40 L62.12,494.40 L63.84,494.40 L65.56,494.39 L67.28,494.39 L68.99,494.39 L70.71,494.39 L72.43,494.39 L74.15,494.38 L75.87,494.38 L77.59,494.38 L79.31,494.38 L81.03,494.38 L82.75,494.37 L84.46,494.37 L86.18,494.37 L87.90,494.37 L89.62,494.37 L91.34,494.37 L93.06,494.36 L94.78,494.36 L96.50,494.36 L98.22,494.36 L99.93,494.36 L101.65,494.35 L103.37,494.35 L105.09,494.35 L106.81,494.35 L108.53,494.35 L110.25,494.34 L111.97,494.34 L113.68,494.34 L115.40,494.34 L117.12,494.33 L118.84,494.33 L120.56,494.33 L122.28,494.32 L124.00,494.32 L125.72,494.32 L127.44,494.31 L129.15,494.31 L130.87,494.31 L132.59,494.30 L134.31,494.30 L136.03,494.30 L137.75,494.29 L139.47,494.28 L141.19,494.28 L142.91,494.27 L144.62,494.26 L146.34,494.26 L148.06,494.25 L149.78,494.24 L151.50,494.23 L153.22,494.22 L154.94,494.21 L156.66,494.19 L158.38,494.18 L160.09,494.17 L161.81,494.16 L163.53,494.14 L165.25,494.13 L166.97,494.11 L168.69,494.10 L170.41,494.08 L172.13,494.07 L173.85,494.05 L175.56,494.04 L177.28,494.02 L179.00,494.00 L180.72,493.98 L182.44,493.97 L184.16,493.95 L185.88,493.93 L187.60,493.91 L189.32,493.89 L191.03,493.87 L192.75,493.85 L194.47,493.83 L196.19,493.81 L197.91,493.79 L199.63,493.77 L201.35,493.74 L203.07,493.71 L204.78,493.68 L206.50,493.65 L208.22,493.61 L209.94,493.58 L211.66,493.54 L213.38,493.50 L215.10,493.46 L216.82,493.41 L218.54,493.37 L220.25,493.32 L221.97,493.28 L223.69,493.23 L225.41,493.18 L227.13,493.13 L228.85,493.08 L230.57,493.03 L232.29,492.99 L234.01,492.94 L235.72,492.89 L237.44,492.84 L239.16,492.79 L240.88,492.74 L242.60,492.69 L244.32,492.64 L246.04,492.60 L247.76,492.55 L249.48,492.51 L251.19,492.47 L252.91,492.42 L254.63,492.38 L256.35,492.35 L258.07,492.31 L259.79,492.27 L261.51,492.24 L263.23,492.21 L264.95,492.17 L266.66,492.14 L268.38,492.11 L270.10,492.07 L271.82,492.04 L273.54,492.01 L275.26,491.98 L276.98,491.95 L278.70,491.92 L280.42,491.89 L282.13,491.86 L283.85,491.83 L285.57,491.80 L287.29,491.77 L289.01,491.74 L290.73,491.71 L292.45,491.68 L294.17,491.65 L295.88,491.63 L297.60,491.60 L299.32,491.57 L301.04,491.54 L302.76,491.51 L304.48,491.48 L306.20,491.46 L307.92,491.43 L309.64,491.40 L311.35,491.37 L313.07,491.34 L314.79,491.32 L316.51,491.29 L318.23,491.26 L319.95,491.23 L321.67,491.20 L323.39,491.17 L325.11,491.15 L326.82,491.12 L328.54,491.09 L330.26,491.06 L331.98,491.03 L333.70,491.00" fill="none" stroke="#0000ff" stroke-width="1.1" stroke-linecap="butt"/>
<text x="197.05" y="538.8" text-anchor="middle" font-size="12.0">r/R</text>
<text transform="translate(11.4,403.8) rotate(-90)" text-anchor="middle" font-size="12.0">WEC1</text>
<rect x="86.5" y="387.7" width="153" height="52.5" fill="#fff" stroke="#1a1a1a" stroke-width="1.2"/>
<line x1="101.3" y1="399.80" x2="130.7" y2="399.80" stroke="#6cf06c" stroke-width="2.0"/>
<text x="133.7" y="403.80" font-size="10.6">SAX J1808.4-3658</text>
<line x1="101.3" y1="413.60" x2="130.7" y2="413.60" stroke="#ff1a1a" stroke-width="1.5" stroke-dasharray="1.5 1.58"/>
<text x="133.7" y="417.60" font-size="10.6">4U 1538-52</text>
<line x1="101.3" y1="427.40" x2="130.7" y2="427.40" stroke="#0000ff" stroke-width="1.1"/>
<text x="133.7" y="431.40" font-size="10.6">Her X-1</text>
<line x1="406.5" y1="283.5" x2="406.5" y2="506.5" stroke="#1a1a1a" stroke-width="1"/>
<line x1="406.0" y1="506" x2="680.3" y2="506" stroke="#666" stroke-width="2"/>
<line x1="406.50" y1="506" x2="406.50" y2="510.8" stroke="#1a1a1a" stroke-width="1"/>
<text transform="translate(405.80,520.2) scale(0.96,1)" font-size="8.6" text-anchor="middle">0.0</text>
<line x1="433.83" y1="506" x2="433.83" y2="510.8" stroke="#1a1a1a" stroke-width="1"/>
<text transform="translate(433.13,520.2) scale(0.96,1)" font-size="8.6" text-anchor="middle">0.1</text>
<line x1="461.16" y1="506" x2="461.16" y2="510.8" stroke="#1a1a1a" stroke-width="1"/>
<text transform="translate(460.46,520.2) scale(0.96,1)" font-size="8.6" text-anchor="middle">0.2</text>
<line x1="488.49" y1="506" x2="488.49" y2="510.8" stroke="#1a1a1a" stroke-width="1"/>
<text transform="translate(487.79,520.2) scale(0.96,1)" font-size="8.6" text-anchor="middle">0.3</text>
<line x1="515.82" y1="506" x2="515.82" y2="510.8" stroke="#1a1a1a" stroke-width="1"/>
<text transform="translate(515.12,520.2) scale(0.96,1)" font-size="8.6" text-anchor="middle">0.4</text>
<line x1="543.15" y1="506" x2="543.15" y2="510.8" stroke="#1a1a1a" stroke-width="1"/>
<text transform="translate(542.45,520.2) scale(0.96,1)" font-size="8.6" text-anchor="middle">0.5</text>
<line x1="570.48" y1="506" x2="570.48" y2="510.8" stroke="#1a1a1a" stroke-width="1"/>
<text transform="translate(569.78,520.2) scale(0.96,1)" font-size="8.6" text-anchor="middle">0.6</text>
<line x1="597.81" y1="506" x2="597.81" y2="510.8" stroke="#1a1a1a" stroke-width="1"/>
<text transform="translate(597.11,520.2) scale(0.96,1)" font-size="8.6" text-anchor="middle">0.7</text>
<line x1="625.14" y1="506" x2="625.14" y2="510.8" stroke="#1a1a1a" stroke-width="1"/>
<text transform="translate(624.44,520.2) scale(0.96,1)" font-size="8.6" text-anchor="middle">0.8</text>
<line x1="652.47" y1="506" x2="652.47" y2="510.8" stroke="#1a1a1a" stroke-width="1"/>
<text transform="translate(651.77,520.2) scale(0.96,1)" font-size="8.6" text-anchor="middle">0.9</text>
<line x1="679.80" y1="506" x2="679.80" y2="510.8" stroke="#1a1a1a" stroke-width="1"/>
<text transform="translate(679.10,520.2) scale(0.96,1)" font-size="8.6" text-anchor="middle">1.0</text>
<line x1="402.2" y1="283.5" x2="406.5" y2="283.5" stroke="#1a1a1a" stroke-width="1"/>
<text transform="translate(397.4,286.25) scale(0.905,1)" text-anchor="end">0.00064</text>
<line x1="402.2" y1="302.04" x2="406.5" y2="302.04" stroke="#1a1a1a" stroke-width="1"/>
<text transform="translate(397.4,304.79) scale(0.905,1)" text-anchor="end">0.00063</text>
<line x1="402.2" y1="320.58" x2="406.5" y2="320.58" stroke="#1a1a1a" stroke-width="1"/>
<text transform="translate(397.4,323.33) scale(0.905,1)" text-anchor="end">0.00062</text>
<line x1="402.2" y1="339.12" x2="406.5" y2="339.12" stroke="#1a1a1a" stroke-width="1"/>
<text transform="translate(397.4,341.87) scale(0.905,1)" text-anchor="end">0.00061</text>
<line x1="402.2" y1="357.65999999999997" x2="406.5" y2="357.65999999999997" stroke="#1a1a1a" stroke-width="1"/>
<text transform="translate(397.4,360.41) scale(0.905,1)" text-anchor="end">0.00060</text>
<line x1="402.2" y1="376.2" x2="406.5" y2="376.2" stroke="#1a1a1a" stroke-width="1"/>
<text transform="translate(397.4,378.95) scale(0.905,1)" text-anchor="end">0.00059</text>
<line x1="402.2" y1="394.74" x2="406.5" y2="394.74" stroke="#1a1a1a" stroke-width="1"/>
<text transform="translate(397.4,397.49) scale(0.905,1)" text-anchor="end">0.00058</text>
<line x1="402.2" y1="413.28" x2="406.5" y2="413.28" stroke="#1a1a1a" stroke-width="1"/>
<text transform="translate(397.4,416.03) scale(0.905,1)" text-anchor="end">0.00057</text>
<line x1="402.2" y1="431.82" x2="406.5" y2="431.82" stroke="#1a1a1a" stroke-width="1"/>
<text transform="translate(397.4,434.57) scale(0.905,1)" text-anchor="end">0.00056</text>
<line x1="402.2" y1="450.36" x2="406.5" y2="450.36" stroke="#1a1a1a" stroke-width="1"/>
<text transform="translate(397.4,453.11) scale(0.905,1)" text-anchor="end">0.00055</text>
<line x1="402.2" y1="468.9" x2="406.5" y2="468.9" stroke="#1a1a1a" stroke-width="1"/>
<text transform="translate(397.4,471.65) scale(0.905,1)" text-anchor="end">0.00054</text>
<line x1="402.2" y1="487.44" x2="406.5" y2="487.44" stroke="#1a1a1a" stroke-width="1"/>
<text transform="translate(397.4,490.19) scale(0.905,1)" text-anchor="end">0.00053</text>
<line x1="402.2" y1="505.98" x2="406.5" y2="505.98" stroke="#1a1a1a" stroke-width="1"/>
<text transform="translate(397.4,508.73) scale(0.905,1)" text-anchor="end">0.00052</text>
<path d="M406.50,359.56 L408.22,359.44 L409.94,359.32 L411.66,359.21 L413.38,359.09 L415.09,358.97 L416.81,358.86 L418.53,358.74 L420.25,358.63 L421.97,358.51 L423.69,358.40 L425.41,358.28 L427.13,358.16 L428.85,358.04 L430.56,357.92 L432.28,357.80 L434.00,357.68 L435.72,357.56 L437.44,357.43 L439.16,357.31 L440.88,357.18 L442.60,357.05 L444.32,356.92 L446.03,356.78 L447.75,356.65 L449.47,356.51 L451.19,356.37 L452.91,356.22 L454.63,356.07 L456.35,355.92 L458.07,355.77 L459.78,355.61 L461.50,355.45 L463.22,355.29 L464.94,355.12 L466.66,354.95 L468.38,354.78 L470.10,354.60 L471.82,354.42 L473.54,354.23 L475.25,354.04 L476.97,353.85 L478.69,353.65 L480.41,353.45 L482.13,353.24 L483.85,353.03 L485.57,352.81 L487.29,352.59 L489.01,352.37 L490.72,352.14 L492.44,351.90 L494.16,351.66 L495.88,351.42 L497.60,351.17 L499.32,350.91 L501.04,350.65 L502.76,350.39 L504.48,350.12 L506.19,349.85 L507.91,349.57 L509.63,349.28 L511.35,348.99 L513.07,348.69 L514.79,348.39 L516.51,348.09 L518.23,347.77 L519.95,347.46 L521.66,347.13 L523.38,346.81 L525.10,346.47 L526.82,346.13 L528.54,345.79 L530.26,345.44 L531.98,345.08 L533.70,344.72 L535.42,344.36 L537.13,343.99 L538.85,343.61 L540.57,343.23 L542.29,342.84 L544.01,342.45 L545.73,342.05 L547.45,341.64 L549.17,341.23 L550.88,340.82 L552.60,340.40 L554.32,339.97 L556.04,339.54 L557.76,339.11 L559.48,338.67 L561.20,338.22 L562.92,337.77 L564.64,337.32 L566.35,336.86 L568.07,336.39 L569.79,335.92 L571.51,335.44 L573.23,334.97 L574.95,334.48 L576.67,333.99 L578.39,333.50 L580.11,333.00 L581.82,332.50 L583.54,331.99 L585.26,331.48 L586.98,330.97 L588.70,330.45 L590.42,329.93 L592.14,329.40 L593.86,328.87 L595.58,328.34 L597.29,327.80 L599.01,327.26 L600.73,326.71 L602.45,326.17 L604.17,325.62 L605.89,325.06 L607.61,324.51 L609.33,323.95 L611.05,323.38 L612.76,322.82 L614.48,322.25 L616.20,321.68 L617.92,321.11 L619.64,320.54 L621.36,319.96 L623.08,319.39 L624.80,318.81 L626.52,318.23 L628.23,317.64 L629.95,317.06 L631.67,316.48 L633.39,315.89 L635.11,315.31 L636.83,314.72 L638.55,314.13 L640.27,313.55 L641.98,312.96 L643.70,312.37 L645.42,311.79 L647.14,311.20 L648.86,310.61 L650.58,310.03 L652.30,309.44 L654.02,308.86 L655.74,308.28 L657.45,307.70 L659.17,307.12 L660.89,306.54 L662.61,305.97 L664.33,305.40 L666.05,304.83 L667.77,304.26 L669.49,303.70 L671.21,303.13 L672.92,302.58 L674.64,302.02 L676.36,301.47 L678.08,300.92 L679.80,300.38" fill="none" stroke="#22ee22" stroke-width="1.4" stroke-dasharray="1.5 1.67" stroke-dashoffset="0" stroke-linecap="butt"/>
<path d="M406.50,357.60 L408.21,357.58 L409.92,357.54 L411.62,357.51 L413.33,357.47 L415.04,357.42 L416.75,357.37 L418.45,357.32 L420.16,357.26 L421.87,357.20 L423.58,357.13 L425.28,357.06 L426.99,356.99 L428.70,356.91 L430.41,356.83 L432.11,356.74 L433.82,356.65 L435.53,356.55 L437.24,356.45 L438.94,356.34 L440.65,356.24 L442.36,356.12 L444.07,356.00 L445.77,355.88 L447.48,355.75 L449.19,355.62 L450.90,355.49 L452.60,355.34 L454.31,355.20 L456.02,355.05 L457.73,354.89 L459.43,354.74 L461.14,354.57 L462.85,354.40 L464.56,354.23 L466.26,354.05 L467.97,353.87 L469.68,353.69 L471.39,353.50 L473.09,353.30 L474.80,353.10 L476.51,352.90 L478.22,352.69 L479.92,352.47 L481.63,352.26 L483.34,352.03 L485.05,351.81 L486.75,351.57 L488.46,351.34 L490.17,351.10 L491.88,350.85 L493.58,350.60 L495.29,350.35 L497.00,350.09 L498.71,349.82 L500.41,349.56 L502.12,349.28 L503.83,349.01 L505.54,348.73 L507.24,348.44 L508.95,348.15 L510.66,347.85 L512.37,347.56 L514.07,347.25 L515.78,346.95 L517.49,346.63 L519.20,346.32 L520.90,346.00 L522.61,345.67 L524.32,345.34 L526.03,345.01 L527.73,344.67 L529.44,344.33 L531.15,343.98 L532.86,343.63 L534.56,343.28 L536.27,342.92 L537.98,342.56 L539.69,342.19 L541.39,341.82 L543.10,341.45 L544.81,341.07 L546.52,340.69 L548.22,340.30 L549.93,339.91 L551.64,339.52 L553.35,339.12 L555.05,338.72 L556.76,338.32 L558.47,337.91 L560.18,337.50 L561.88,337.08 L563.59,336.66 L565.30,336.24 L567.01,335.82 L568.71,335.39 L570.42,334.95 L572.13,334.52 L573.84,334.08 L575.54,333.63 L577.25,333.19 L578.96,332.74 L580.67,332.29 L582.37,331.83 L584.08,331.37 L585.79,330.91 L587.50,330.45 L589.21,329.98 L590.91,329.51 L592.62,329.04 L594.33,328.57 L596.04,328.09 L597.74,327.61 L599.45,327.12 L601.16,326.64 L602.87,326.15 L604.57,325.66 L606.28,325.17 L607.99,324.67 L609.70,324.17 L611.40,323.68 L613.11,323.17 L614.82,322.67 L616.53,322.17 L618.23,321.66 L619.94,321.15 L621.65,320.64 L623.36,320.13 L625.06,319.61 L626.77,319.10 L628.48,318.58 L630.19,318.06 L631.89,317.54 L633.60,317.02 L635.31,316.49 L637.02,315.97 L638.72,315.45 L640.43,314.92 L642.14,314.39 L643.85,313.86 L645.55,313.34 L647.26,312.81 L648.97,312.28 L650.68,311.75 L652.38,311.22 L654.09,310.68 L655.80,310.15 L657.51,309.62 L659.21,309.09 L660.92,308.56 L662.63,308.02 L664.34,307.49 L666.04,306.96 L667.75,306.43 L669.46,305.90 L671.17,305.36 L672.87,304.83 L674.58,304.30 L676.29,303.77 L678.00,303.25" fill="none" stroke="#ff2020" stroke-width="1.4" stroke-dasharray="3.5 1.66" stroke-dashoffset="0" stroke-linecap="butt"/>
<path d="M406.50,498.44 L408.22,498.36 L409.94,498.27 L411.66,498.18 L413.38,498.09 L415.09,497.99 L416.81,497.89 L418.53,497.78 L420.25,497.67 L421.97,497.56 L423.69,497.44 L425.41,497.32 L427.13,497.19 L428.85,497.06 L430.56,496.92 L432.28,496.78 L434.00,496.64 L435.72,496.49 L437.44,496.33 L439.16,496.17 L440.88,496.01 L442.60,495.84 L444.32,495.66 L446.03,495.48 L447.75,495.30 L449.47,495.11 L451.19,494.91 L452.91,494.71 L454.63,494.51 L456.35,494.30 L458.07,494.08 L459.78,493.86 L461.50,493.63 L463.22,493.40 L464.94,493.16 L466.66,492.92 L468.38,492.67 L470.10,492.42 L471.82,492.16 L473.54,491.89 L475.25,491.62 L476.97,491.34 L478.69,491.06 L480.41,490.77 L482.13,490.47 L483.85,490.17 L485.57,489.87 L487.29,489.55 L489.01,489.24 L490.72,488.91 L492.44,488.58 L494.16,488.24 L495.88,487.90 L497.60,487.55 L499.32,487.20 L501.04,486.84 L502.76,486.47 L504.48,486.10 L506.19,485.72 L507.91,485.33 L509.63,484.94 L511.35,484.55 L513.07,484.14 L514.79,483.73 L516.51,483.32 L518.23,482.89 L519.95,482.47 L521.66,482.03 L523.38,481.59 L525.10,481.14 L526.82,480.69 L528.54,480.23 L530.26,479.77 L531.98,479.30 L533.70,478.82 L535.42,478.34 L537.13,477.85 L538.85,477.35 L540.57,476.85 L542.29,476.34 L544.01,475.82 L545.73,475.30 L547.45,474.78 L549.17,474.25 L550.88,473.71 L552.60,473.16 L554.32,472.61 L556.04,472.06 L557.76,471.49 L559.48,470.92 L561.20,470.35 L562.92,469.77 L564.64,469.18 L566.35,468.59 L568.07,467.99 L569.79,467.39 L571.51,466.78 L573.23,466.17 L574.95,465.55 L576.67,464.92 L578.39,464.29 L580.11,463.65 L581.82,463.01 L583.54,462.36 L585.26,461.71 L586.98,461.05 L588.70,460.38 L590.42,459.71 L592.14,459.04 L593.86,458.36 L595.58,457.67 L597.29,456.98 L599.01,456.28 L600.73,455.58 L602.45,454.88 L604.17,454.17 L605.89,453.45 L607.61,452.73 L609.33,452.00 L611.05,451.27 L612.76,450.54 L614.48,449.80 L616.20,449.06 L617.92,448.31 L619.64,447.56 L621.36,446.80 L623.08,446.04 L624.80,445.27 L626.52,444.50 L628.23,443.73 L629.95,442.95 L631.67,442.17 L633.39,441.38 L635.11,440.59 L636.83,439.80 L638.55,439.00 L640.27,438.20 L641.98,437.40 L643.70,436.59 L645.42,435.78 L647.14,434.96 L648.86,434.15 L650.58,433.33 L652.30,432.50 L654.02,431.68 L655.74,430.85 L657.45,430.02 L659.17,429.18 L660.89,428.34 L662.61,427.50 L664.33,426.66 L666.05,425.82 L667.77,424.97 L669.49,424.12 L671.21,423.27 L672.92,422.42 L674.64,421.56 L676.36,420.71 L678.08,419.85 L679.80,418.99" fill="none" stroke="#0000ff" stroke-width="1.2" stroke-linecap="butt"/>
<text x="543.15" y="538.8" text-anchor="middle" font-size="12.0">r/R</text>
<text transform="translate(357.8,402.9) rotate(-90)" text-anchor="middle" font-size="12.0">SEC</text>
<rect x="416.5" y="397.5" width="153" height="52.5" fill="#fff" stroke="#1a1a1a" stroke-width="1.2"/>
<line x1="431.3" y1="409.60" x2="461.0" y2="409.60" stroke="#22ee22" stroke-width="1.4" stroke-dasharray="1.5 1.67"/>
<text x="464.3" y="413.50" font-size="10.6">SAX J1808.4-3658</text>
<line x1="431.3" y1="423.40" x2="461.0" y2="423.40" stroke="#ff2020" stroke-width="1.4" stroke-dasharray="3.5 1.66"/>
<text x="464.3" y="427.30" font-size="10.6">4U 1538-52</text>
<line x1="431.3" y1="437.20" x2="461.0" y2="437.20" stroke="#0000ff" stroke-width="1.2"/>
<text x="464.3" y="441.10" font-size="10.6">Her X-1</text>
</g>
</svg>
</body></html>
